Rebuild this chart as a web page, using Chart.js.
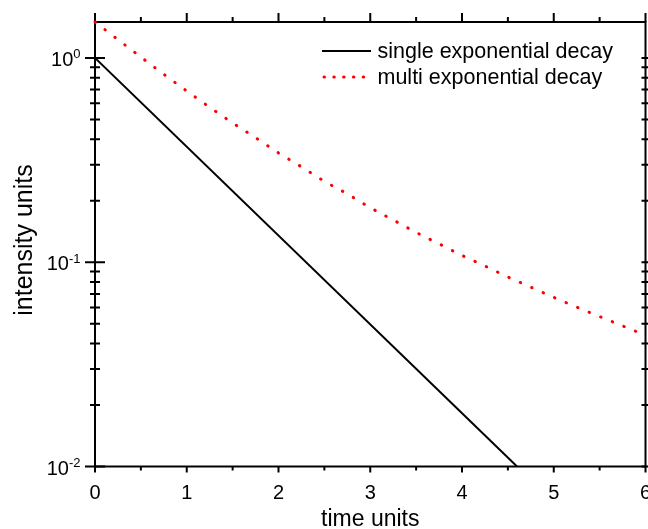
<!DOCTYPE html>
<html>
<head>
<meta charset="utf-8">
<script src="https://cdn.jsdelivr.net/npm/chart.js@4/dist/chart.umd.min.js"></script>
<style>
  html, body { margin: 0; padding: 0; background: #fff; overflow: hidden; }
</style>
</head>
<body>
<canvas id="myChart" width="648" height="529"></canvas>
<script>
// values
const singleTime = [0, 4.6]
const singleDecay = [1, 0.01]

const multiTime = [0, 0.25, 0.5, 0.75, 1, 1.25, 1.5, 1.75, 2, 2.25, 2.5, 2.75, 3,
                   3.25, 3.5, 3.75, 4, 4.25, 4.5, 4.75, 5, 5.25, 5.5, 5.75, 6]
const multiDecay = [1.5, 1.23, 1.01, 0.832, 0.689, 0.574, 0.481, 0.407, 0.343, 0.293,
                    0.249, 0.216, 0.185, 0.161, 0.140, 0.123, 0.108, 0.0959, 0.0847,
                    0.0755, 0.0673, 0.0603, 0.0542, 0.0488, 0.0439]

const xTicks = [0, 1, 2, 3, 4, 5, 6]
const yTicks = [0.01, 0.1, 1]
const yTickExp = ['-2', '-1', '0']

const labels = ['single exponential decay', 'multi exponential decay']

const FONT = '"Liberation Sans", Arial, sans-serif'

function pairs(xs, ys) {
  return xs.map((x, i) => ({ x: x, y: ys[i] }))
}

// box frame, ticks, tick labels, axis titles and legend (drawn under the curves)
const frame = {
  id: 'frame',
  beforeDatasetsDraw(chart) {
    const ctx = chart.ctx
    const a = chart.chartArea
    const xs = chart.scales.x
    const ys = chart.scales.y
    ctx.save()
    ctx.strokeStyle = '#000'
    ctx.lineWidth = 2
    ctx.strokeRect(a.left, a.top, a.right - a.left, a.bottom - a.top)

    ctx.beginPath()
    for (let v = 0; v <= 6; v += 0.5) {
      const px = xs.getPixelForValue(v)
      const major = v % 1 === 0
      ctx.moveTo(px, a.bottom)
      ctx.lineTo(px, a.bottom + (major ? 6 : 4))
      ctx.moveTo(px, a.top)
      ctx.lineTo(px, a.top - (major ? 9 : 5))
    }
    yTicks.forEach(t => {
      const py = ys.getPixelForValue(t)
      ctx.moveTo(a.left - 10, py)
      ctx.lineTo(a.left + 10, py)
      ctx.moveTo(a.right - 4, py)
      ctx.lineTo(a.right + 4, py)
      for (let m = 2; m <= 9; m++) {
        const v = t * m
        if (v > ys.max) break
        const q = ys.getPixelForValue(v)
        ctx.moveTo(a.left - 5, q)
        ctx.lineTo(a.left + 5, q)
        ctx.moveTo(a.right - 4, q)
        ctx.lineTo(a.right + 4, q)
      }
    })
    ctx.stroke()

    ctx.fillStyle = '#000'
    ctx.font = '20px ' + FONT
    ctx.textAlign = 'center'
    ctx.textBaseline = 'alphabetic'
    xTicks.forEach(t => {
      ctx.fillText(String(t), xs.getPixelForValue(t), a.bottom + 32)
    })

    yTicks.forEach((t, i) => {
      const py = ys.getPixelForValue(t)
      ctx.font = '13px ' + FONT
      const w = ctx.measureText(yTickExp[i]).width
      ctx.textAlign = 'left'
      ctx.fillText(yTickExp[i], 80.5 - w, py + 0.5)
      ctx.font = '20px ' + FONT
      ctx.textAlign = 'right'
      ctx.fillText('10', 80.5 - w, py + 8)
    })

    ctx.font = '23px ' + FONT
    ctx.textAlign = 'center'
    ctx.fillText('time units', (a.left + a.right) / 2, 526)
    ctx.save()
    ctx.font = '25px ' + FONT
    ctx.translate(32, 240)
    ctx.rotate(-Math.PI / 2)
    ctx.fillText('intensity units', 0, 0)
    ctx.restore()

    // legend inside the plot
    chart.data.datasets.forEach((ds, i) => {
      const ly = 51 + i * 26
      ctx.save()
      ctx.strokeStyle = ds.borderColor
      ctx.lineWidth = ds.borderWidth
      ctx.lineCap = ds.borderCapStyle || 'butt'
      ctx.setLineDash(ds.borderDash ? [0.5, 9.3] : [])
      ctx.beginPath()
      ctx.moveTo(ds.borderDash ? 324 : 322, ly)
      ctx.lineTo(371, ly)
      ctx.stroke()
      ctx.restore()
      ctx.font = '21.5px ' + FONT
      ctx.textAlign = 'left'
      ctx.fillText(ds.label, 377.5, ly + 6.5)
    })
    ctx.restore()
  }
}

const ctx = document.getElementById('myChart').getContext('2d')
const chart = new Chart(ctx, {
  type: 'line',
  data: {
    datasets: [{
      label: labels[0],
      data: pairs(singleTime, singleDecay),
      borderColor: '#000',
      borderWidth: 2,
      pointRadius: 0,
      fill: false
    }, {
      label: labels[1],
      data: pairs(multiTime, multiDecay),
      borderColor: '#ff0000',
      borderWidth: 3,
      borderCapStyle: 'round',
      borderDash: [0.5, 12],
      cubicInterpolationMode: 'monotone',
      pointRadius: 0,
      clip: 4,
      fill: false
    }]
  },
  options: {
    responsive: false,
    animation: false,
    layout: { padding: { left: 95, right: 2.5, top: 22, bottom: 62.5 } },
    scales: {
      x: { type: 'linear', min: 0, max: 6, display: false },
      y: { type: 'logarithmic', min: 0.01, max: 1.5, bounds: 'data', display: false }
    },
    plugins: {
      legend: { display: false },
      tooltip: { enabled: false }
    }
  },
  plugins: [frame]
})
</script>
</body>
</html>
